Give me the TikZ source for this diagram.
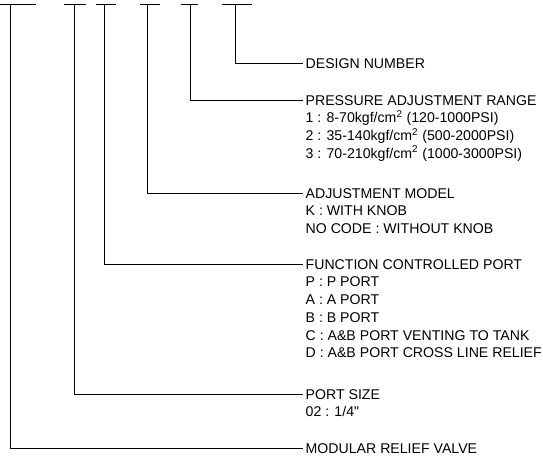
\documentclass[tikz,border=0pt]{standalone}
\usepackage{fontspec}
\newfontfamily\labfont{Liberation Sans}
\usetikzlibrary{positioning}

\begin{document}
\begin{tikzpicture}[x=0.75pt, y=-0.75pt,
  lbl/.style={anchor=west, inner sep=0pt, outer xsep=2pt,
    font=\labfont\fontsize{10.6pt}{12pt}\selectfont,
    text height=7.6pt, text depth=0pt},
  lead/.style={black, line width=0.75pt}]
\useasboundingbox (0,0) rectangle (543,458);
% headings
\node[lbl] (dsn) at (303,63) {DESIGN NUMBER};
\node[lbl] (prs) at (303,100) {PRESSURE ADJUSTMENT RANGE};
\node[lbl] (adj) at (303,193) {ADJUSTMENT MODEL};
\node[lbl] (fcp) at (303,264) {FUNCTION CONTROLLED PORT};
\node[lbl] (psz) at (303,394) {PORT SIZE};
\node[lbl] (mrv) at (303,448) {MODULAR RELIEF VALVE};
% code lists
\foreach \t [count=\i] in {1 : 8-70kgf/cm\textsuperscript{2} (120-1000PSI),
    2 : 35-140kgf/cm\textsuperscript{2} (500-2000PSI),
    3 : 70-210kgf/cm\textsuperscript{2} (1000-3000PSI)}
  \node[lbl] (prs\i) at ([yshift=-\i*13.3pt]prs.west) {\t};
\foreach \t [count=\i] in {K : WITH KNOB, NO CODE : WITHOUT KNOB}
  \node[lbl] (adj\i) at ([yshift=-\i*13.3pt]adj.west) {\t};
\foreach \t [count=\i] in {P : P PORT, A : A PORT, B : B PORT,
    C : A\&B PORT VENTING TO TANK, D : A\&B PORT CROSS LINE RELIEF}
  \node[lbl] (fcp\i) at ([yshift=-\i*13.3pt]fcp.west) {\t};
\node[lbl] (psz1) at ([yshift=-13.3pt]psz.west) {02 : 1/4"};
% code positions
\coordinate (t1) at (10,4);
\coordinate (t2) at (74,4);
\coordinate (t3) at (104,4);
\coordinate (t4) at (147.5,4);
\coordinate (t5) at (190.5,4);
\coordinate (t6) at (235,4);
\draw[lead] (0,4) -- (36,4);
\draw[lead] (64,4) -- (86,4);
\draw[lead] (96,4) -- (116,4);
\draw[lead] (140,4) -- (160,4);
\draw[lead] (181,4) -- (198,4);
\draw[lead] (222,4) -- (252,4);
% leaders
\draw[lead] (t6) |- (dsn.west);
\draw[lead] (t5) |- (prs.west);
\draw[lead] (t4) |- (adj.west);
\draw[lead] (t3) |- (fcp.west);
\draw[lead] (t2) |- (psz.west);
\draw[lead] (t1) |- (mrv.west);
\end{tikzpicture}
\end{document}
